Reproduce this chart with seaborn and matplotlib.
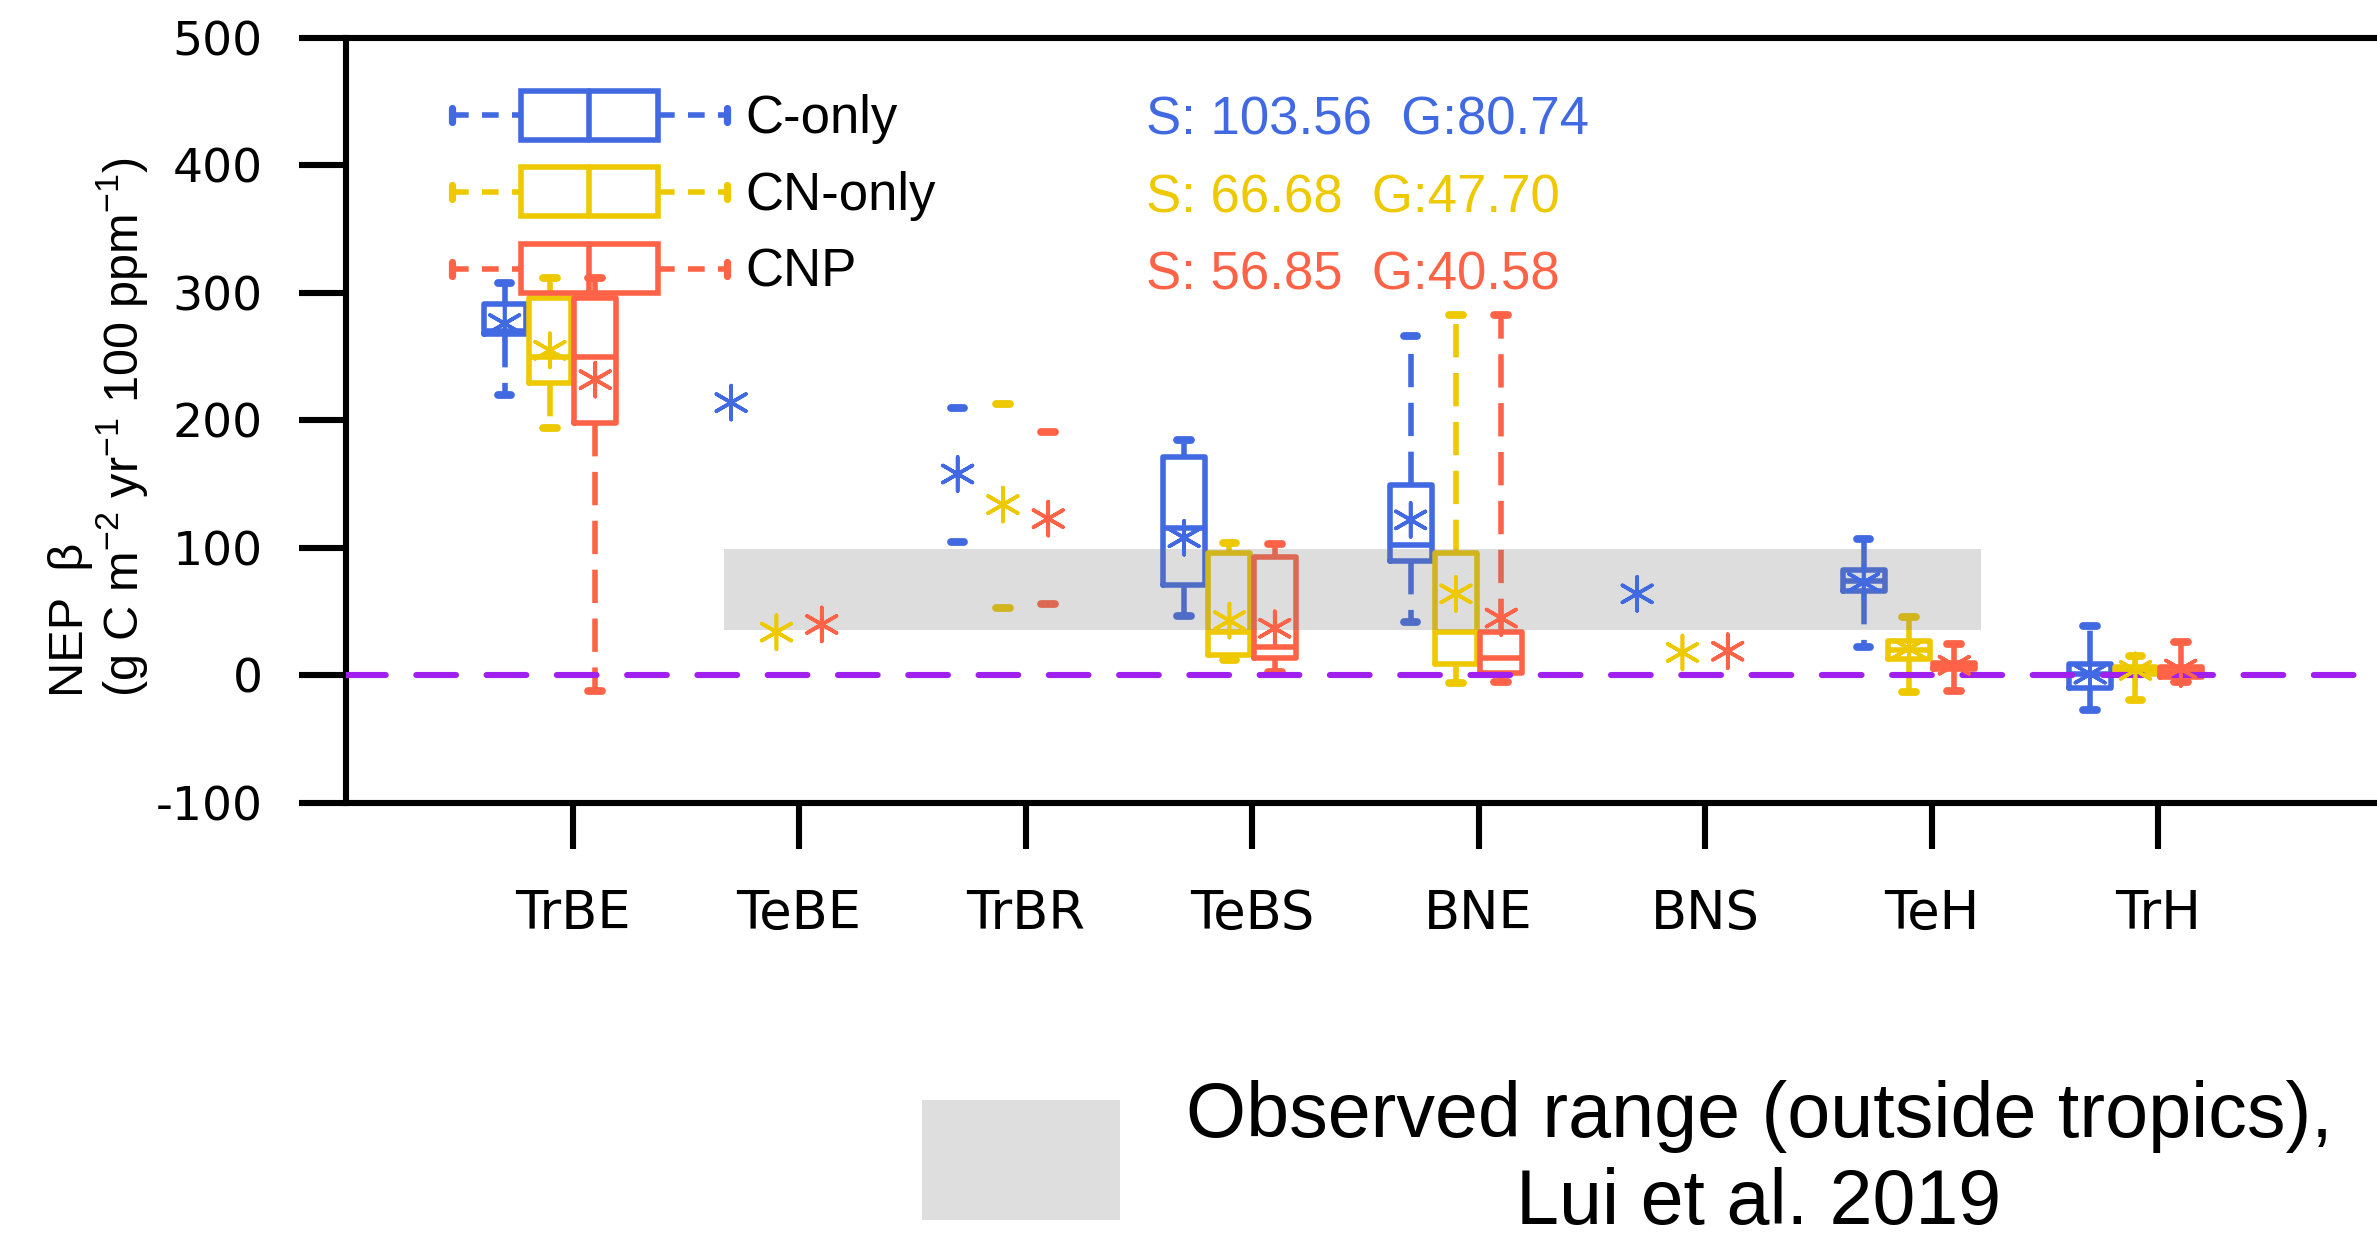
import numpy as np
import pandas as pd
import matplotlib
matplotlib.use("Agg")
import matplotlib.pyplot as plt
import seaborn as sns
from matplotlib.patches import Rectangle, Patch
from matplotlib.lines import Line2D
from matplotlib.legend_handler import HandlerBase

# Data
pfts = ["TrBE", "TeBE", "TrBR", "TeBS", "BNE", "BNS", "TeH", "TrH"]
models = ["C-only", "CN-only", "CNP"]
colors = ["#4169E1", "#EEC900", "#FF6347"]
nan = np.nan

# C-only: lower whisker, Q1, median, Q3, upper whisker, mean
c_lo = [220, nan, 105, 47, 42, nan, 22, -27]
c_q1 = [268, nan, nan, 71, 90, nan, 66, -10]
c_md = [270, nan, nan, 116, 102, nan, 74, 1]
c_q3 = [291, nan, nan, 171, 149, nan, 83, 9]
c_hi = [308, nan, 210, 185, 266, nan, 107, 39]
c_mean = [276, 214, 158, 108, 122, 64, 73, 1]

# CN-only
cn_lo = [194, nan, 53, 12, -6, nan, -13, -19]
cn_q1 = [229, nan, nan, 16, 9, nan, 13, 1.5]
cn_md = [250, nan, nan, 34, 34, nan, 20, 4.5]
cn_q3 = [296, nan, nan, 96, 96, nan, 27, 7]
cn_hi = [312, nan, 213, 104, 283, nan, 46, 15]
cn_mean = [255, 34, 134, 43, 64, 18, 21, 4]

# CNP
cnp_lo = [-12, nan, 56, 3, -5, nan, -12.5, -5]
cnp_q1 = [198, nan, nan, 14, 2, nan, 5, -1]
cnp_md = [250, nan, nan, 22, 14, nan, 7, 2.5]
cnp_q3 = [296, nan, nan, 93, 34, nan, 10, 7]
cnp_hi = [312, nan, 191, 103, 283, nan, 25, 26]
cnp_mean = [232, 40, 123, 37, 45, 19, 8, 5]

s_vals = [103.56, 66.68, 56.85]
g_vals = [80.74, 47.70, 40.58]

# observed range band (outside tropics)
obs_lo, obs_hi = 36, 99
obs_x0, obs_x1 = 1.67, 7.22

series = [
    (c_lo, c_q1, c_md, c_q3, c_hi, c_mean),
    (cn_lo, cn_q1, cn_md, cn_q3, cn_hi, cn_mean),
    (cnp_lo, cnp_q1, cnp_md, cnp_q3, cnp_hi, cnp_mean),
]
offsets = [-0.3, -0.1, 0.1]


class BoxGlyph(HandlerBase):
    def create_artists(self, legend, orig_handle, xdescent, ydescent,
                       width, height, fontsize, trans):
        col = orig_handle.get_edgecolor()
        x0, y0 = -xdescent, -ydescent
        ym = y0 + height / 2
        b0, b1 = x0 + width * 0.25, x0 + width * 0.75
        box = Rectangle((b0, y0), b1 - b0, height, fill=False, ec=col,
                        lw=2.0, transform=trans)
        med = Line2D([(b0 + b1) / 2] * 2, [y0, y0 + height], color=col,
                     lw=2.0, transform=trans)
        wl = Line2D([x0, b0], [ym, ym], color=col, lw=2.0,
                    ls=(0, (3, 2.4)), transform=trans)
        wr = Line2D([b1, x0 + width], [ym, ym], color=col, lw=2.0,
                    ls=(0, (3, 2.4)), transform=trans)
        cl = Line2D([x0, x0], [ym - height * 0.14, ym + height * 0.14],
                    color=col, lw=2.6, solid_capstyle="round", transform=trans)
        cr = Line2D([x0 + width] * 2, [ym - height * 0.14, ym + height * 0.14],
                    color=col, lw=2.6, solid_capstyle="round", transform=trans)
        return [box, med, wl, wr, cl, cr]


sns.set_style("ticks")
plt.rcParams["font.family"] = ["Liberation Sans", "DejaVu Sans"]
plt.rcParams["axes.unicode_minus"] = False
for key in ["text.color", "axes.labelcolor", "xtick.color", "ytick.color",
            "axes.edgecolor"]:
    plt.rcParams[key] = "black"

fig = plt.figure(figsize=(11.885, 6.205), dpi=200)
ax = fig.add_axes([0.1456, 0.353, 0.8576, 0.6164])

base = np.arange(1, len(pfts) + 1)
rows = []
for (lo, q1, md, q3, hi, mn), off, col, name in zip(series, offsets, colors, models):
    pos = base + off
    stats = [dict(whislo=a, q1=b, med=c, q3=d, whishi=e, fliers=[])
             for a, b, c, d, e in zip(lo, q1, md, q3, hi)]
    ax.bxp(stats, positions=pos, widths=0.185, capwidths=0.06,
           showfliers=False, manage_ticks=False,
           boxprops=dict(color=col, lw=2.0),
           medianprops=dict(color=col, lw=2.0),
           whiskerprops=dict(color=col, lw=2.0, ls=(0, (6, 2.8))),
           capprops=dict(color=col, lw=2.8, solid_capstyle="round"))
    rows.append(pd.DataFrame({"pos": pos, "mean": mn, "model": name}))

means = pd.concat(rows, ignore_index=True)
sns.scatterplot(data=means, x="pos", y="mean", hue="model",
                palette=dict(zip(models, colors)), marker=(6, 2, 0), s=150,
                linewidth=1.3, legend=False, ax=ax, zorder=5)

ax.fill_between([obs_x0, obs_x1], obs_lo, obs_hi, color="#7B7B7B",
                alpha=0.25, lw=0, zorder=3)
ax.axhline(0, color="#A020F0", lw=2.2, ls=(0, (6.5, 5)),
           dash_capstyle="round", zorder=4)

ax.set_xlim(0, 9)
ax.set_ylim(-100, 500)
ax.set_xticks(base)
ax.set_xticklabels(pfts)
ax.set_yticks(np.arange(-100, 501, 100))
ax.set_xlabel("")
ax.set_ylabel("")
for side in ["left", "top", "bottom"]:
    ax.spines[side].set_linewidth(2.2)
    ax.spines[side].set_color("black")
ax.spines["right"].set_visible(False)
ax.tick_params(axis="y", length=17, width=2.2, pad=13, labelsize=17)
ax.tick_params(axis="x", length=16.5, width=2.2, pad=14, labelsize=19)
for lab in ax.get_xticklabels() + ax.get_yticklabels():
    lab.set_fontfamily(["DejaVu Sans"])

# legend for the model versions
handles = [Patch(edgecolor=c, facecolor="none", label=m)
           for m, c in zip(models, colors)]
ax.legend(handles=handles, handler_map={Patch: BoxGlyph()}, loc="upper left",
          bbox_to_anchor=(0.052, 0.931), frameon=False, fontsize=19,
          handlelength=5.2, handleheight=1.05, handletextpad=0.35,
          labelspacing=0.44, borderpad=0, borderaxespad=0)

for s, g, col, yb in zip(s_vals, g_vals, colors, [424, 363, 303]):
    ax.text(3.53, yb, f"S: {s:.2f}  G:{g:.2f}", color=col, fontsize=19,
            va="baseline", ha="left")

fig.text(0.0415, 0.438,
         "NEP  \u03b2\n(g C m$\\mathregular{^{-2}}$ yr$\\mathregular{^{-1}}$ 100 ppm$\\mathregular{^{-1}}$)",
         rotation=90, ha="center", va="bottom", multialignment="left",
         fontsize=17.5, linespacing=1.02)

# observed range key below the plot
fig.add_artist(Rectangle((0.388, 0.017), 0.083, 0.097,
                         transform=fig.transFigure, color="#DEDEDE", lw=0))
fig.text(0.740, 0.065, "Observed range (outside tropics),\nLui et al. 2019",
         ha="center", va="center", fontsize=27.8, linespacing=1.25,
         family=["Liberation Sans Narrow", "Liberation Sans"])

fig.savefig("out.png", dpi=200)
